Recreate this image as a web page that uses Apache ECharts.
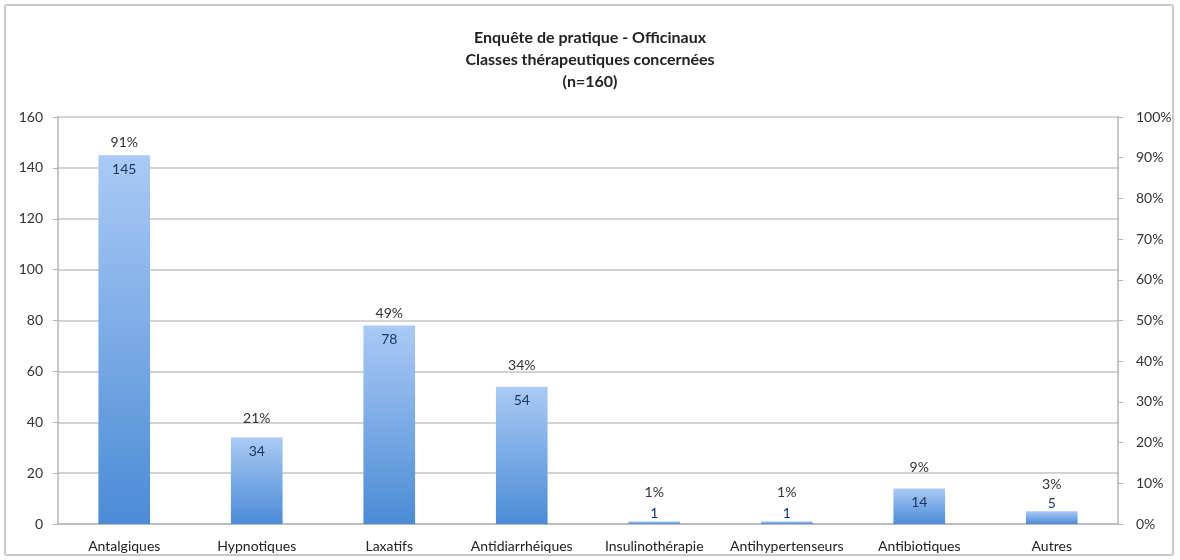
<!DOCTYPE html>
<html>
<head>
  <meta charset="utf-8">
  <title>Enquête de pratique - Officinaux</title>
  <script src="https://cdn.jsdelivr.net/npm/echarts@6/dist/echarts.min.js"></script>
  <style>
    body { margin: 0; background: #fff; }
    #wrap { position: relative; width: 1180px; height: 560px; }
    #main { width: 1180px; height: 560px; }
    #frame { position: absolute; left: 4px; top: 4px; right: 6px; bottom: 4px;
             border: 2px solid #c9c9c9; border-radius: 3px; pointer-events: none; }
  </style>
</head>
<body>
<div id="wrap">
  <div id="main"></div>
  <div id="frame"></div>
</div>
<script type="text/javascript">
  // données
  var categories = ['Antalgiques', 'Hypnotiques', 'Laxatifs', 'Antidiarrhéiques',
                    'Insulinothérapie', 'Antihypertenseurs', 'Antibiotiques', 'Autres'];
  var counts = [145, 34, 78, 54, 1, 1, 14, 5];
  var percents = [91, 21, 49, 34, 1, 1, 9, 3];
  var leftTicks = { min: 0, max: 160, step: 20 };
  var rightTicks = { min: 0, max: 100, step: 10 };

  var font = 'Lato, "Open Sans", sans-serif';

  var barColor = new echarts.graphic.LinearGradient(0, 0, 0, 1, [
    { offset: 0, color: '#aacaf5' },
    { offset: 1, color: '#4b8bd6' }
  ]);

  // petites barres : étiquette au-dessus
  var countData = counts.map(function (v) {
    if (v < 8) {
      return { value: v, label: { position: 'top', distance: 1 } };
    }
    return v;
  });
  var pctData = percents.map(function (v) {
    if (v < 5) {
      return { value: v, label: { distance: 20 } };
    }
    if (v < 40) {
      return { value: v, label: { distance: 13 } };
    }
    return v;
  });

  var myChart = echarts.init(document.getElementById('main'));
  var option = {
    animation: false,
    backgroundColor: '#fff',
    textStyle: { fontFamily: font },
    title: {
      text: 'Enquête de pratique - Officinaux\nClasses thérapeutiques concernées\n(n=160)',
      left: 'center',
      top: 22,
      textStyle: { fontFamily: font, fontSize: 16, fontWeight: 'bold', color: '#222', lineHeight: 22 }
    },
    grid: { left: 58, right: 62, top: 117, bottom: 36 },
    xAxis: {
      type: 'category',
      data: categories,
      axisLine: { lineStyle: { color: '#b5b5b5', width: 1.5 } },
      axisTick: { length: 5, lineStyle: { color: '#b5b5b5' } },
      axisLabel: { color: '#222', fontSize: 14, margin: 15, interval: 0 }
    },
    yAxis: [
      {
        type: 'value',
        min: leftTicks.min, max: leftTicks.max, interval: leftTicks.step,
        axisLine: { show: true, lineStyle: { color: '#b5b5b5', width: 1.5 } },
        axisTick: { show: true, length: 5, lineStyle: { color: '#b5b5b5' } },
        axisLabel: { color: '#333', fontSize: 14, margin: 15 },
        splitLine: { lineStyle: { color: '#c4c4c4', width: 1.5 } }
      },
      {
        type: 'value',
        min: rightTicks.min, max: rightTicks.max, interval: rightTicks.step,
        position: 'right',
        axisLine: { show: true, lineStyle: { color: '#b5b5b5', width: 1.5 } },
        axisTick: { show: true, length: 5, lineStyle: { color: '#b5b5b5' } },
        axisLabel: { color: '#333', fontSize: 14, margin: 18, formatter: '{value}%' },
        splitLine: { show: false }
      }
    ],
    series: [
      {
        name: 'Effectif',
        type: 'bar',
        yAxisIndex: 0,
        barWidth: '39%',
        data: countData,
        itemStyle: { color: barColor },
        label: {
          show: true, position: 'insideTop', distance: 7,
          color: '#1b3660', fontSize: 14, fontFamily: font
        },
        z: 3
      },
      {
        name: 'Pourcentage',
        type: 'bar',
        yAxisIndex: 1,
        barWidth: '39%',
        barGap: '-100%',
        data: pctData,
        itemStyle: { color: 'rgba(0,0,0,0)' },
        label: {
          show: true, position: 'top', distance: 4,
          color: '#333', fontSize: 14, fontFamily: font, formatter: '{c}%'
        },
        z: 4
      }
    ]
  };
  myChart.setOption(option);
</script>
</body>
</html>
